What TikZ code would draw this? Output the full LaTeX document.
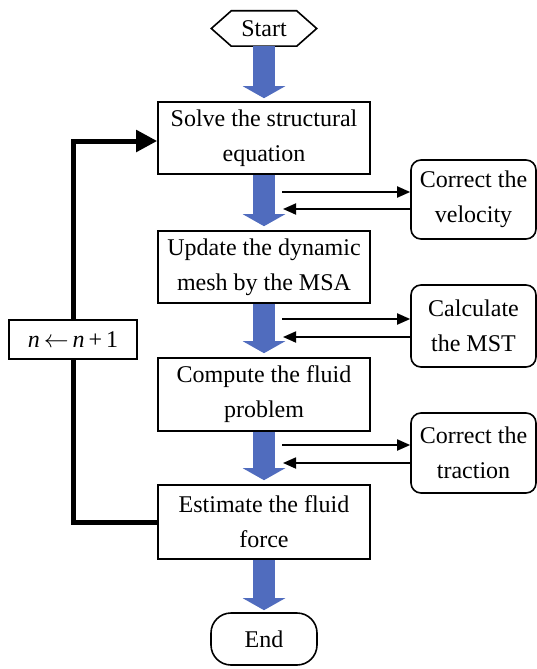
\documentclass[tikz,border=0pt]{standalone}
\usepackage{fontspec}
\setmainfont{Liberation Serif}
\usetikzlibrary{arrows.meta,calc}
\definecolor{flowblue}{RGB}{80,108,190}
\begin{document}
\begin{tikzpicture}[x=1pt,y=-1pt,
  every node/.style={font=\fontsize{24}{35}\selectfont, align=center, inner sep=0pt},
  mainbox/.style={draw, line width=1.6pt, minimum width=212pt, minimum height=72pt, fill=white},
  sidebox/.style={draw, line width=1.6pt, rounded corners=10pt, minimum width=125pt, minimum height=80pt, fill=white},
  bluearrow/.style={draw=flowblue, line width=22pt, -{Triangle[length=12pt,width=42pt]}},
  thinarrow/.style={line width=1.8pt, -{Triangle[length=13pt,width=11pt]}},
  loopline/.style={line width=5pt},
]
\useasboundingbox (0,0) rectangle (537,669);

% nodes
\node (start) at (264,28.5) [minimum width=105pt, minimum height=35pt] {Start};
\draw[line width=1.6pt] (start.west) -- ($(start.north west)+(20pt,0)$) -- ($(start.north east)+(-20pt,0)$)
  -- (start.east) -- ($(start.south east)+(-20pt,0)$) -- ($(start.south west)+(20pt,0)$) -- cycle;

\node[mainbox] (b1) at (264,138) {Solve the structural\\equation};
\node[mainbox] (b2) at (264,267) {Update the dynamic\\mesh by the MSA};
\node[mainbox, minimum height=73pt] (b3) at (264,394.5) {Compute the fluid\\problem};
\node[mainbox, minimum height=74pt] (b4) at (264,522) {Estimate the fluid\\force};
\node[draw, line width=1.6pt, rounded corners=20pt, minimum width=106pt, minimum height=52pt] (end) at (264,639) {End};

\node[sidebox, minimum height=79pt] (s1) at (473.5,199.5) {Correct the\\velocity};
\node[sidebox, minimum height=82pt] (s2) at (473.5,326) {Calculate\\the MST};
\node[sidebox] (s3) at (473.5,453) {Correct the\\traction};

% blue arrows
\draw[bluearrow, shorten >=3pt] (start.south) -- (b1.north);
\draw[bluearrow, shorten >=4pt] (b1.south) -- (b2.north);
\draw[bluearrow, shorten >=4pt] (b2.south) -- (b3.north);
\draw[bluearrow, shorten >=4pt] (b3.south) -- (b4.north);
\draw[bluearrow, shorten >=2pt] (b4.south) -- (end.north);

% side arrows
\coordinate (o1) at (282,192); \coordinate (i1) at (283,209);
\coordinate (o2) at (282,319); \coordinate (i2) at (283,337);
\coordinate (o3) at (282,445); \coordinate (i3) at (283,463);
\draw[thinarrow] (o1) -- (o1 -| s1.west);
\draw[thinarrow] (i1 -| s1.west) -- (i1);
\draw[thinarrow] (o2) -- (o2 -| s2.west);
\draw[thinarrow] (i2 -| s2.west) -- (i2);
\draw[thinarrow] (o3) -- (o3 -| s3.west);
\draw[thinarrow] (i3 -| s3.west) -- (i3);

% loop
\node[draw, line width=1.6pt, fill=white, minimum width=128pt, minimum height=39pt] (nb) at (73,339.5) {\textit{n}\,$\leftarrow$\,\textit{n}\,+\,1};
\draw[loopline] (b4.west) -| (nb.south);
\draw[loopline, -{Triangle[length=21pt,width=21pt]}] (nb.north) |- ($(b1.west)+(0,-3pt)$);
\end{tikzpicture}
\end{document}
